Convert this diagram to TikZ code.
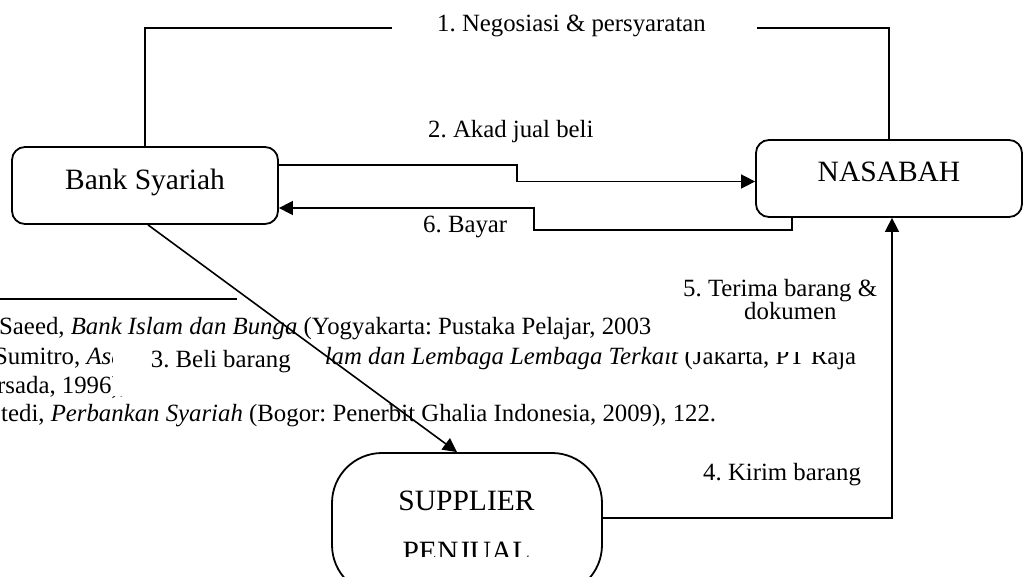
\documentclass[tikz,border=0pt]{standalone}
\usepackage{fontspec}
\setmainfont{Liberation Serif}
\usetikzlibrary{arrows.meta}
\frenchspacing
\begin{document}
\begin{tikzpicture}[x=1pt,y=-1pt,
  smalltext/.style={inner sep=0pt, anchor=base west, font=\fontsize{24.8}{29}\selectfont},
  boxtext/.style={inner sep=0pt, font=\fontsize{29.5}{34}\selectfont},
  partybox/.style={draw, line width=1.8pt, rounded corners=13pt, minimum width=266pt, minimum height=77pt, inner sep=0pt, font=\fontsize{29.5}{34}\selectfont, text height=20pt},
  suppbox/.style={draw, line width=1.8pt, rounded corners=50pt, minimum width=270pt, minimum height=142pt, inner sep=0pt},
  conn/.style={line width=1.6pt},
  arr/.style={line width=1.6pt, -{Triangle[length=14pt,width=14pt]}},
  mask/.style={fill=white}
]
\useasboundingbox (0,0) rectangle (1026,577);
\clip (0,0) rectangle (1026,577);

% footnote text in the background
\node[smalltext] (f1) at (-1,335) {Saeed, \textit{Bank Islam dan Bunga} (Yogyakarta: Pustaka Pelajar, 2003)};
\node[smalltext] (f2) at (-6,365) {Sumitro, \textit{Asas-asas Perbankan Islam dan Lembaga Lembaga Terkait} (Jakarta, PT Raja};
\node[smalltext] (f3) at (-3,394) {rsada, 1996),};
\node[smalltext] (f4) at (1,421) {tedi, \textit{Perbankan Syariah} (Bogor: Penerbit Ghalia Indonesia, 2009), 122.};
\coordinate (r0) at (0,299);
\coordinate (r1) at (237,299);
\draw[line width=2.6pt] (r0) -- (r1);

% nodes
\node[partybox, text depth=12.4pt] (bank) at (145,185.5) {Bank Syariah};
\node[partybox, text depth=14.5pt] (nas) at (889,178.5) {NASABAH};
\node[suppbox] (supp) at (467,524) {};
\begin{scope}
  \clip (332,453) rectangle (602,556.5);
  \node[boxtext, anchor=base] (st1) at (466.5,510) {SUPPLIER};
  \node[boxtext, anchor=base] (st2) at (466.5,561) {PENJUAL};
\end{scope}

% 1. negotiation line
\coordinate (top1) at (500,28);
\draw[conn] (bank.north) |- (top1) -| (nas.north);

% label masks
\fill[mask] (392,6) rectangle (757,50);
\fill[mask] (113,340) rectangle (324,396);
\fill[mask] (651,262) rectangle (886,352);

% labels
\node[smalltext] (l1) at (437,31.7) {1. Negosiasi \& persyaratan};
\node[smalltext] (l2) at (428,138) {2. Akad jual beli};
\node[smalltext] (l3) at (150.7,368) {3. Beli barang};
\node[smalltext] (l4) at (703,480.7) {4. Kirim barang};
\node[smalltext] (l5a) at (683,297) {5. Terima barang \&};
\node[smalltext] (l5b) at (744,320) {dokumen};
\node[smalltext] (l6) at (423,233) {6. Bayar};

% connectors
\coordinate (b2) at (517,173);
\draw[arr] ([yshift=20.5pt]bank.east) -| (b2) |- ([yshift=-3pt]nas.west);
\coordinate (c6) at (534,230);
\draw[arr] ([xshift=-97pt]nas.south) |- (c6) |- ([yshift=-22.5pt]bank.east);
\draw[arr] ([xshift=3pt]bank.south) -- ([xshift=-10pt]supp.north);
\draw[arr] ([yshift=6pt]supp.east) -| ([xshift=3pt]nas.south);
\end{tikzpicture}
\end{document}
